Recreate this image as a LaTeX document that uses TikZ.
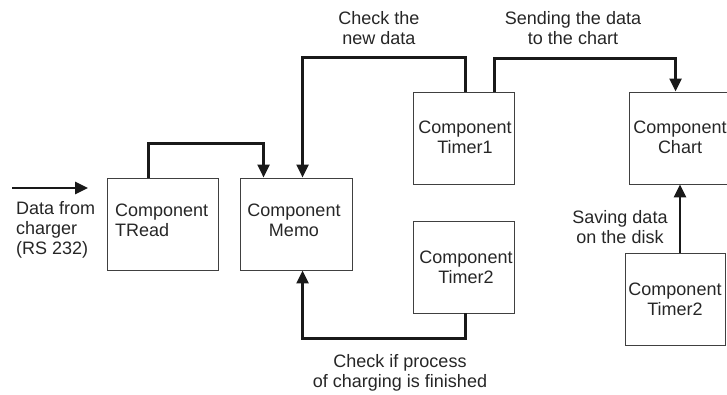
\documentclass[tikz,border=0pt]{standalone}
\usepackage{fontspec}
\setmainfont{Liberation Sans}
\usetikzlibrary{arrows.meta}
\begin{document}
\begin{tikzpicture}[x=1pt,y=-1pt,
  box/.style={draw=black!75,line width=0.9pt,rectangle,inner sep=0pt},
  lbl/.style={inner sep=0pt,align=center,font=\fontsize{18}{20}\selectfont,text=black!85},
  conn/.style={draw=black!90,line width=2.6pt,-{Triangle[length=13pt,width=12pt]}}]
\useasboundingbox (0,0) rectangle (727,394);
\clip (0,0) rectangle (727,394);
\node[box,minimum width=111pt,minimum height=92pt] (tread) at (162.5,224) {};
\node[box,minimum width=112pt,minimum height=92pt] (memo) at (296,224) {};
\node[box,minimum width=101pt,minimum height=92pt] (timer1) at (463.5,138) {};
\node[box,minimum width=102pt,minimum height=92pt] (chart) at (680,138) {};
\node[box,minimum width=101pt,minimum height=92pt] (timer2) at (463.5,267) {};
\node[box,minimum width=100pt,minimum height=92pt] (timer2b) at (675,299) {};
% labels
\node[lbl,align=left,anchor=west] (tdata) at (16,230) {Data from\\charger\\(RS 232)};
\node[lbl,align=left,anchor=west] (ttread) at (115,220) {Component\\TRead};
\node[lbl] (tmemo) at (294,220) {Component\\Memo};
\node[lbl] (ttimer1) at (465,137) {Component\\Timer1};
\node[lbl] (tchart) at (680,137) {Component\\Chart};
\node[lbl] (ttimer2) at (466,267) {Component\\Timer2};
\node[lbl] (ttimer2b) at (675,299) {Component\\Timer2};
\node[lbl] (tcheck) at (379,28) {Check the\\new data};
\node[lbl] (tsend) at (573,28) {Sending the data\\to the chart};
\node[lbl] (tsave) at (620,227) {Saving data\\on the disk};
\node[lbl] (tfin) at (400,373) {Check if process\\of charging is finished};
% connectors
\coordinate (in0) at (12,188);
\coordinate (in1) at (88,188);
\draw[conn] (in0) -- (in1);
\draw[conn] ([xshift=42pt]tread.north west) -- ++(0,-34) -| ([xshift=24pt]memo.north west);
\draw[conn] ([xshift=53pt]timer1.north west) -- ++(0,-34) -| ([xshift=63pt]memo.north west);
\draw[conn] ([xshift=82pt]timer1.north west) -- ++(0,-33) -| ([xshift=47pt]chart.north west);
\draw[conn] ([xshift=53pt]timer2.south west) -- ++(0,25) -| ([xshift=63pt]memo.south west);
\draw[conn] (timer2b.north -| chart.south) -- (chart.south);
\end{tikzpicture}
\end{document}
